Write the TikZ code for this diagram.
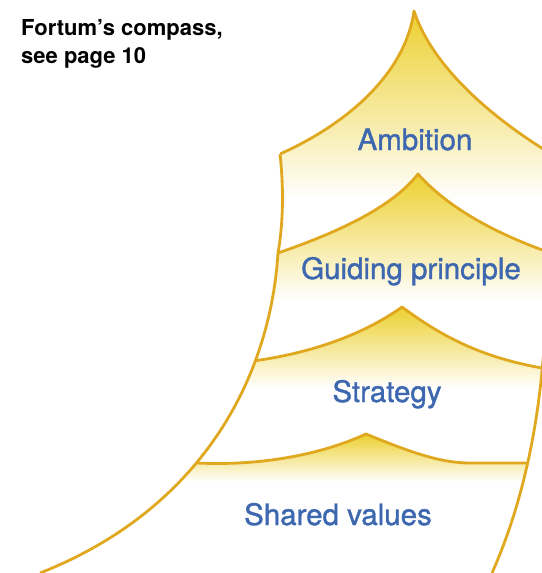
\documentclass[tikz,border=0pt]{standalone}
\usepackage{fontspec}
\setmainfont{TeX Gyre Heros}
\newfontfamily\labfont[FakeBold=1.2]{TeX Gyre Heros}
\definecolor{ylw}{HTML}{ECD02F}
\definecolor{edge}{HTML}{E0A81F}
\definecolor{lbl}{HTML}{3D67AE}
\tikzset{
  layer/.style={top color=ylw, bottom color=white, draw=none},
  rim/.style={draw=edge, line width=2.8pt, line join=round},
  lab/.style={anchor=base, text=lbl, font=\labfont\fontsize{29.5}{35}\selectfont},
  note/.style={anchor=base west, font=\bfseries\fontsize{22}{26}\selectfont, inner sep=0pt}
}
\begin{document}
\begin{tikzpicture}[x=1pt,y=-1pt]
\useasboundingbox (0,0) rectangle (541,573);
\fill[white] (0,0) rectangle (541,573);
% key points
\coordinate (aL) at (280,154);
\coordinate (aP) at (414,11);
\coordinate (gL) at (278,253);
\coordinate (gP) at (418,174);
\coordinate (sL) at (253,361);
\coordinate (sP) at (402,307);
\coordinate (vL) at (197,463);
\coordinate (vP) at (366,434);
\coordinate (bl) at (40,573);
\coordinate (rt) at (545,330);
\coordinate (br) at (492,573);
\begin{scope}
\clip (280,0) -- (aL) .. controls (284,190) and (283,225) .. (gL)
  .. controls (270,380) and (200,510) .. (bl) -- (br)
  .. controls (520,510) and (540,430) .. (rt) -- (560,330) -- (560,0) -- cycle;
% Ambition
\shade[layer] (aL) .. controls (345,125) and (405,75) .. (aP)
  .. controls (430,60) and (480,110) .. (548,152) -- (560,200) -- (150,200) -- cycle;
% Guiding principle
\shade[layer] (268,257) -- (gL) .. controls (330,235) and (390,210) .. (gP)
  .. controls (450,210) and (500,235) .. (548,252) -- (560,300) -- (150,300) -- cycle;
% Strategy
\shade[layer] (240,362) -- (sL) .. controls (320,352) and (370,330) .. (sP)
  .. controls (440,335) and (480,358) .. (548,369) -- (560,388) -- (150,388) -- cycle;
% Shared values
\shade[layer] (180,463) -- (vL) .. controls (260,466) and (320,455) .. (vP)
  .. controls (410,452) and (440,463) .. (470,463) -- (560,463) -- (560,482) -- (150,482) -- cycle;
% top rims
\draw[rim] (aL) .. controls (345,125) and (405,75) .. (aP)
  .. controls (430,60) and (480,110) .. (548,152);
\draw[rim] (268,257) -- (gL) .. controls (330,235) and (390,210) .. (gP)
  .. controls (450,210) and (500,235) .. (548,252);
\draw[rim] (240,362) -- (sL) .. controls (320,352) and (370,330) .. (sP)
  .. controls (440,335) and (480,358) .. (548,369);
\draw[rim] (180,463) -- (vL) .. controls (260,466) and (320,455) .. (vP)
  .. controls (410,452) and (440,463) .. (470,463) -- (560,463);
\end{scope}
% outer rims
\draw[rim] (aL) .. controls (284,190) and (283,225) .. (gL)
  .. controls (270,380) and (200,510) .. (bl);
\draw[rim] (rt) .. controls (540,430) and (520,510) .. (br);
% labels
\node[lab] (amb) at (415,150) {Ambition};
\node[lab] (gui) at (411,279) {Guiding principle};
\node[lab] (str) at (387,402) {Strategy};
\node[lab] (val) at (338,525) {Shared values};
\node[note] (n1) at (21,35) {Fortum’s compass,};
\node[note] (n2) at (21,63) {see page 10};
\end{tikzpicture}
\end{document}
